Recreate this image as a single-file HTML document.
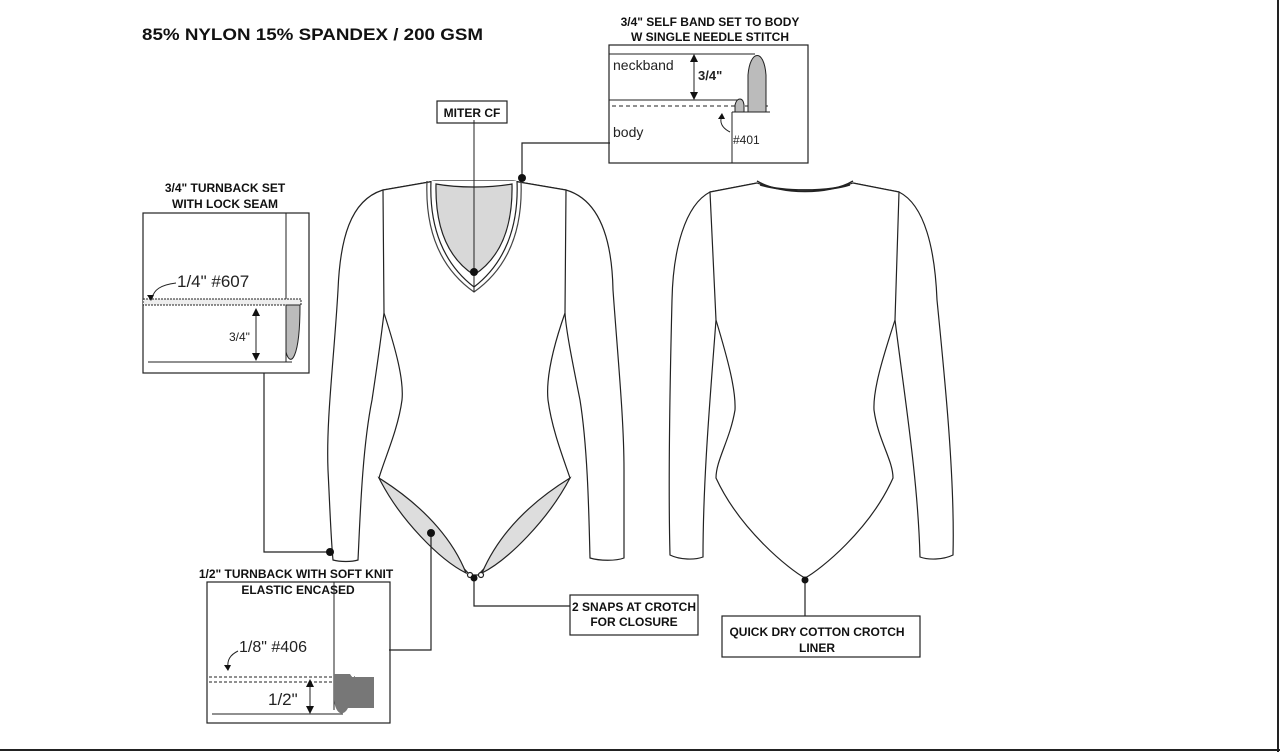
<!DOCTYPE html>
<html><head><meta charset="utf-8"><style>
body{margin:0;background:#fff;}
svg{display:block}
text{font-family:"Liberation Sans",sans-serif;}
.t{font-weight:bold;font-size:12px;fill:#111}
</style></head><body>
<svg width="1280" height="752" viewBox="0 0 1280 752" xmlns="http://www.w3.org/2000/svg">
<rect x="0" y="0" width="1280" height="752" fill="#fff"/>
<line x1="1278" y1="0" x2="1278" y2="752" stroke="#222" stroke-width="2"/>
<line x1="0" y1="750" x2="1280" y2="750" stroke="#222" stroke-width="2"/>
<text x="142" y="40" style="font-weight:bold;font-size:17px" fill="#111" textLength="341" lengthAdjust="spacingAndGlyphs">85% NYLON 15% SPANDEX / 200 GSM</text>

<g fill="none" stroke="#222" stroke-width="1.2">
<!-- FRONT -->
<path d="M435,181 L383,190 C350,200 340,240 338,290 C334,360 326,420 328,470 C330,510 331,540 333,560 C340,562 352,562 358,560 C360,520 362,450 372,400 C378,360 382,330 384,313" fill="#fff"/>
<path d="M513,181 L566,190 C600,200 612,240 613,290 C618,360 624,420 624,470 C624,510 624,540 624,558 C616,561 600,561 590,558 C589,520 588,450 580,400 C572,360 566,330 565,313" fill="#fff"/>
<path d="M435,181 L383,190 L384,313 C396,350 404,380 402,400 C398,430 384,460 379,478 L470,575 L478,575 L570,478 C564,460 552,430 548,400 C546,380 552,350 565,313 L566,190 L513,181 Z" fill="#fff"/>
<path d="M379,478 C400,520 440,560 466,573 C455,545 430,510 379,478 Z" fill="#ddd"/>
<path d="M570,478 C548,520 508,560 482,573 C494,545 518,510 570,478 Z" fill="#ddd"/>
<path d="M427,181 C425,230 440,268 474,292 C508,268 523,230 521,181" stroke="#444"/>
<path d="M431,181 C429,228 444,264 474,287 C504,264 519,228 517,181" fill="#fff"/>
<path d="M436,184 C435,228 448,258 474,275 C500,258 513,228 512,184 C490,188 458,188 436,184 Z" fill="#d8d8d8"/>
<line x1="474" y1="120" x2="474" y2="292" stroke-width="1"/>
<circle cx="470" cy="575" r="2.5" fill="#fff" stroke="#222"/><circle cx="481" cy="575" r="2.5" fill="#fff" stroke="#222"/>

<!-- BACK -->
<path d="M757,183 L710,192 C685,205 673,250 672,300 C670,380 668,480 670,555 C680,560 695,560 703,557 C703,480 710,400 716,320" fill="#fff"/>
<path d="M853,183 L899,192 C925,205 935,250 937,300 C945,380 955,480 953,555 C943,560 928,560 920,557 C918,480 905,400 895,320" fill="#fff"/>
<path d="M757,183 L710,192 L716,320 C728,360 736,390 735,410 C730,440 716,460 716,478 C740,530 790,570 805,578 C820,570 870,530 893,478 C893,460 878,440 874,410 C873,390 882,360 895,320 L899,192 L853,183 C830,192 780,192 757,183 Z" fill="#fff"/>
<path d="M757,181 C780,195 830,195 853,181" stroke-width="1.5"/>
<path d="M760,185 C782,192 828,192 850,185"/>

<!-- callout lines -->
<polyline points="522,178 522,143 610,143"/>
<polyline points="264,373 264,552 330,552"/>
<polyline points="431,533 431,650 389,650"/>
<polyline points="474,577 474,606 570,606"/>
<line x1="805" y1="580" x2="805" y2="616"/>

<!-- boxes -->
<rect x="437" y="101" width="70" height="22"/>
<rect x="570" y="595" width="128" height="40"/>
<rect x="722" y="616" width="198" height="41"/>
<rect x="609" y="45" width="199" height="118"/>
<rect x="143" y="213" width="166" height="160"/>
<rect x="207" y="582" width="183" height="141"/>
</g>
<g fill="#111">
<circle cx="522" cy="178" r="4"/><circle cx="474" cy="272" r="4"/><circle cx="330" cy="552" r="4"/>
<circle cx="431" cy="533" r="4"/><circle cx="474" cy="578" r="3.5"/><circle cx="805" cy="580" r="3.5"/>
</g>
<text class="t" x="472" y="117" text-anchor="middle">MITER CF</text>
<text class="t" x="634" y="611" text-anchor="middle">2 SNAPS AT CROTCH</text>
<text class="t" x="634" y="626" text-anchor="middle">FOR CLOSURE</text>
<text class="t" x="817" y="636" text-anchor="middle">QUICK DRY COTTON CROTCH</text>
<text class="t" x="817" y="652" text-anchor="middle">LINER</text>
<text class="t" x="710" y="26" text-anchor="middle">3/4" SELF BAND SET TO BODY</text>
<text class="t" x="710" y="41" text-anchor="middle">W SINGLE NEEDLE STITCH</text>
<text class="t" x="225" y="192" text-anchor="middle">3/4" TURNBACK SET</text>
<text class="t" x="225" y="208" text-anchor="middle">WITH LOCK SEAM</text>
<text class="t" x="296" y="578" text-anchor="middle">1/2" TURNBACK WITH SOFT KNIT</text>
<text class="t" x="298" y="594" text-anchor="middle">ELASTIC ENCASED</text>

<!-- neckband detail -->
<g fill="none" stroke="#222" stroke-width="1">
<line x1="609" y1="54" x2="755" y2="54"/>
<line x1="609" y1="100" x2="740" y2="100"/>
<line x1="612" y1="106" x2="768" y2="106" stroke-dasharray="4,3"/>
<line x1="732" y1="112" x2="732" y2="163"/>
<line x1="732" y1="112" x2="770" y2="112"/>
<path d="M748,112 L748,75 C750,50 764,48 766,75 L766,112 Z" fill="#bbb"/>
<path d="M735,112 L735,105 C737,97 743,97 744,105 L744,112 Z" fill="#bbb"/>
<line x1="694" y1="56" x2="694" y2="98"/>
<path d="M730,132 C722,128 719,122 722,116"/>
</g>
<path d="M694,54 l-4,8 h8 z M694,100 l-4,-8 h8 z M722,113 l-4,6 h7 z" fill="#111"/>
<text x="613" y="70" style="font-size:14px" fill="#222">neckband</text>
<text x="698" y="80" style="font-size:13px;font-weight:bold" fill="#222">3/4"</text>
<text x="613" y="137" style="font-size:14px" fill="#222">body</text>
<text x="733" y="144" style="font-size:12px" fill="#222">#401</text>

<!-- turnback detail -->
<g fill="none" stroke="#222" stroke-width="1">
<line x1="286" y1="213" x2="286" y2="362"/>
<rect x="143" y="299" width="158" height="6" stroke-dasharray="2,1" fill="#eee"/>
<line x1="148" y1="362" x2="292" y2="362"/>
<path d="M286,305 L286,352 C290,368 300,360 300,305 Z" fill="#bbb"/>
<line x1="256" y1="310" x2="256" y2="358"/>
<path d="M176,283 C160,285 154,290 152,298"/>
</g>
<path d="M256,308 l-4,8 h8 z M256,361 l-4,-8 h8 z M151,301 l-4,-6 h7 z" fill="#111"/>
<text x="177" y="287" style="font-size:17px" fill="#222">1/4" #607</text>
<text x="229" y="341" style="font-size:12px" fill="#222">3/4"</text>

<!-- elastic detail -->
<g fill="none" stroke="#222" stroke-width="1">
<line x1="334" y1="582" x2="334" y2="710"/>
<line x1="209" y1="677" x2="355" y2="677" stroke-dasharray="3,2"/>
<line x1="209" y1="682" x2="355" y2="682" stroke-dasharray="3,2"/>
<line x1="212" y1="714" x2="343" y2="714"/>
<path d="M334,674 L334,700 C336,716 344,716 348,708 L374,708 L374,677 L352,677 L350,674 Z" fill="#777" stroke="none"/>
<line x1="310" y1="681" x2="310" y2="712"/>
<path d="M238,651 C230,655 227,660 228,668"/>
</g>
<path d="M310,679 l-4,8 h8 z M310,714 l-4,-8 h8 z M228,671 l-4,-6 h7 z" fill="#111"/>
<text x="239" y="652" style="font-size:16px" fill="#222">1/8" #406</text>
<text x="268" y="705" style="font-size:17px" fill="#222">1/2"</text>
</svg>
</body></html>
